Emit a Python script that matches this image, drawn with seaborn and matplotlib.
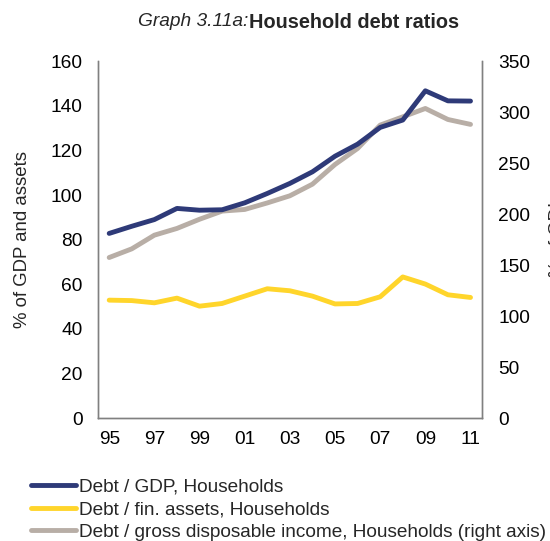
import numpy as np
import pandas as pd
import seaborn as sns
import matplotlib.pyplot as plt

# data
years = ['95', '96', '97', '98', '99', '00', '01', '02', '03', '04',
         '05', '06', '07', '08', '09', '10', '11']
debt_gdp = [82.8, 86.0, 89.0, 94.0, 93.2, 93.4, 96.5, 100.7, 105.2, 110.4,
            117.4, 122.8, 130.3, 133.6, 146.7, 142.2, 142.1]
debt_finassets = [52.9, 52.7, 51.7, 53.8, 50.2, 51.4, 54.7, 58.0, 57.1, 54.7,
                  51.2, 51.4, 54.4, 63.3, 60.1, 55.3, 54.1]
debt_income = [157.5, 166, 179.4, 186, 195, 203, 204.6, 211, 218, 229.4,
               248.7, 264.4, 287.3, 295.4, 303.6, 292.8, 288]

labels = ['Debt / GDP, Households',
          'Debt / fin. assets, Households',
          'Debt / gross disposable income, Households (right axis)']
colors = ['#2E3A78', '#FFD52B', '#B8AEA6']

df = pd.DataFrame({'pos': np.arange(len(years)),
                   'gdp': debt_gdp,
                   'fin': debt_finassets,
                   'inc': debt_income})

sns.set_style('white')
plt.rcParams['font.family'] = ['Liberation Sans', 'DejaVu Sans']

fig = plt.figure(figsize=(5.5, 5.41), dpi=100)
ax = fig.add_axes([0.178, 0.227, 0.698, 0.660])
ax2 = ax.twinx()

sns.lineplot(data=df, x='pos', y='gdp', ax=ax, color=colors[0], lw=3.5, label=labels[0], legend=False)
sns.lineplot(data=df, x='pos', y='fin', ax=ax, color=colors[1], lw=3.5, label=labels[1], legend=False)
sns.lineplot(data=df, x='pos', y='inc', ax=ax2, color=colors[2], lw=3.5, label=labels[2], legend=False)
ax.set_zorder(ax2.get_zorder() + 1)
ax.patch.set_visible(False)

ax.set_xlim(-0.5, len(years) - 0.5)
ax.set_ylim(0, 160)
ax2.set_ylim(0, 350)
ax.set_yticks(range(0, 161, 20))
ax2.set_yticks(range(0, 351, 50))
ax.set_xticks(df['pos'][::2])
ax.set_xticklabels(years[::2])

ax.tick_params(axis='both', length=0, labelsize=13.8, colors='black')
ax.tick_params(axis='y', pad=11)
ax.tick_params(axis='x', pad=9)
ax2.tick_params(axis='y', length=0, labelsize=13.8, pad=12, colors='black')

for a in (ax, ax2):
    a.spines['top'].set_visible(False)
    for s in ('left', 'right', 'bottom'):
        a.spines[s].set_color('#808080')
        a.spines[s].set_linewidth(1.0)
    a.set_xlabel('')

# right label sits half outside the figure, as in the source chart
ax.set_ylabel('% of GDP and assets', fontsize=13.4, labelpad=14)
ax2.set_ylabel('% of GDI', fontsize=13.4, labelpad=13)

fig.text(248 / 550, 1 - 22 / 541, 'Graph 3.11a:', fontsize=13.8, style='italic', ha='right', va='center')
fig.text(249 / 550, 1 - 22 / 541, 'Household debt ratios', fontsize=14.3, weight='bold', ha='left', va='center')

handles = ax.get_lines()[:2] + ax2.get_lines()[:1]
fig.legend(handles, labels, loc='upper left', bbox_to_anchor=(0.057, 0.116),
           frameon=False, fontsize=13.7, handlelength=2.35, handletextpad=0.15,
           labelspacing=0.28, borderpad=0, borderaxespad=0)

fig.savefig('out.png', dpi=100)
